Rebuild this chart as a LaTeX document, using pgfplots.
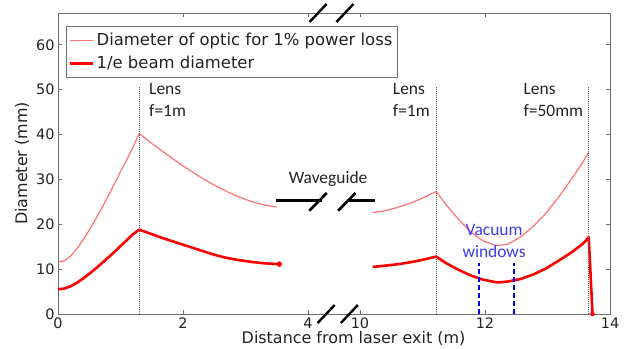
\documentclass[border=0pt]{standalone}
\usepackage{fontspec}
\setmainfont{DejaVu Sans}
\newfontfamily\carlito{Carlito}
\usepackage{pgfplots}
\pgfplotsset{compat=1.18}
\usetikzlibrary{calc}
\definecolor{thinred}{RGB}{255,115,115}
\definecolor{vacblue}{RGB}{60,60,230}
\definecolor{framec}{RGB}{110,110,110}
\definecolor{txt}{RGB}{34,34,34}
\begin{document}
\begin{tikzpicture}
\useasboundingbox (-58bp,-35bp) rectangle (572bp,314bp);
\begin{axis}[
  at={(0,0)}, anchor=south west,
  scale only axis, width=552bp, height=301bp,
  xmin=0, xmax=8.83, ymin=0, ymax=67.1,
  clip=false,
  xtick={0,2,4,4.83,6.83,8.83},
  xticklabels={0,2,4,10,12,14},
  ytick={0,10,20,30,40,50,60},
  tick align=inside, xtick pos=both, ytick pos=both,
  major tick length=4bp,
  tick style={framec, line width=0.8bp},
  axis line style={framec, line width=0.8bp},
  ticklabel style={font=\fontsize{14.5}{17}\selectfont, text=txt},
  /pgf/number format/assume math mode=true,
  xlabel={Distance from laser exit (m)},
  ylabel={Diameter (mm)},
  label style={font=\fontsize{16}{19}\selectfont, text=txt},
  xlabel style={xshift=19.5bp, yshift=4bp},
  legend style={at={(axis description cs:0.0139,0.9568)}, anchor=north west,
    draw=framec, line width=0.8bp, fill=white,
    font=\fontsize{16.5}{19}\selectfont, text=txt,
    inner xsep=3bp, inner ysep=5bp, row sep=5bp},
  legend cell align=left,
  legend image code/.code={\draw[#1] (0bp,0bp) -- (23bp,0bp);},
]
\addplot[thinred, line width=1.2bp, line join=round] coordinates {
(0,11.5) (0.1,11.87) (0.2,12.9) (0.3,14.5) (0.4,16.5) (0.5,18.7) (0.6,21.1)
(0.7,23.6) (0.8,26.2) (0.9,28.9) (1.0,31.7) (1.1,34.4) (1.2,37.2) (1.3,40.2)
(1.5,38.05) (1.7,35.97) (1.9,33.98) (2.1,32.1) (2.3,30.34) (2.5,28.73)
(2.7,27.29) (2.9,26.05) (3.1,25.05) (3.3,24.31) (3.5,23.85)};
\addlegendentry{Diameter of optic for 1\% power loss\hspace{20bp}}
\addplot[red, line width=2.6bp, line join=round] coordinates {
(0,5.5) (0.1,5.67) (0.2,6.17) (0.3,6.93) (0.4,7.9) (0.5,8.95) (0.6,10.1)
(0.7,11.3) (0.8,12.55) (0.9,13.8) (1.0,15.15) (1.1,16.45) (1.2,17.8) (1.3,18.8)
(1.5,17.8) (1.7,16.8) (1.9,15.9) (2.1,15.0) (2.3,14.1) (2.5,13.2) (2.7,12.5)
(2.9,12.0) (3.1,11.6) (3.3,11.3) (3.54,11.12)};
\addlegendentry{1/e beam diameter}
\addplot[forget plot, red, only marks, mark=*, mark size=2.5bp] coordinates {(3.54,11.12)};
\addplot[forget plot, thinred, line width=1.2bp, line join=round] coordinates {
(5.035,22.6) (5.2,22.95) (5.4,23.62) (5.6,24.52) (5.8,25.64) (6.05,27.3)
(6.2,24.5) (6.4,21.2) (6.6,18.3) (6.8,16.3) (7.0,15.27) (7.05,15.25) (7.2,15.6)
(7.4,17.2) (7.6,19.5) (7.8,22.4) (8.0,25.9) (8.2,29.8) (8.4,33.9) (8.49,36.2)};
\addplot[forget plot, red, line width=2.6bp, line join=round] coordinates {
(5.035,10.5) (5.2,10.72) (5.4,11.03) (5.6,11.45) (5.8,11.97) (6.05,12.8)
(6.2,11.4) (6.4,9.9) (6.6,8.6) (6.8,7.65) (7.0,7.1) (7.05,7.05) (7.2,7.25)
(7.4,7.8) (7.6,8.8) (7.8,10.1) (8.0,11.8) (8.2,13.6) (8.4,15.7) (8.49,17.1)
(8.55,0)};
\addplot[forget plot, red, only marks, mark=*, mark size=2bp] coordinates {(8.55,0)};
% lens positions
\addplot[forget plot, black!60, line width=0.8bp, dash pattern=on 0.8bp off 1.2bp] coordinates {(1.3,0) (1.3,50.7)};
\addplot[forget plot, black!60, line width=0.8bp, dash pattern=on 0.8bp off 1.2bp] coordinates {(6.05,0) (6.05,50.7)};
\addplot[forget plot, black!60, line width=0.8bp, dash pattern=on 0.8bp off 1.2bp] coordinates {(8.49,0) (8.49,50.7)};
% vacuum windows
\addplot[forget plot, blue, line width=1.8bp, dash pattern=on 5bp off 3bp] coordinates {(6.74,0) (6.74,11.4)};
\addplot[forget plot, blue, line width=1.8bp, dash pattern=on 5bp off 3bp] coordinates {(7.30,0) (7.30,11.4)};
% annotations
\tikzset{ann/.style={font=\carlito\fontsize{17.5}{21}\selectfont, text=txt, inner sep=0pt}}
\node[ann, anchor=base west] at (axis cs:1.456,48.9) {Lens};
\node[ann, anchor=base west] at (axis cs:1.456,44.0) {f=1m};
\node[ann, anchor=base west] at (axis cs:5.355,48.9) {Lens};
\node[ann, anchor=base west] at (axis cs:5.355,44.0) {f=1m};
\node[ann, anchor=base west] at (axis cs:7.445,48.9) {Lens};
\node[ann, anchor=base west] at (axis cs:7.445,44.0) {f=50mm};
\node[ann, anchor=base] at (axis cs:4.32,29.2) {Waveguide};
\node[ann, anchor=base, text=vacblue] at (axis cs:6.976,17.6) {Vacuum};
\node[ann, anchor=base, text=vacblue] at (axis cs:6.976,12.7) {windows};
% waveguide symbol
\draw[line width=3bp] (axis cs:3.488,25.3) -- (axis cs:4.224,25.3);
\draw[line width=2.6bp] ($(axis cs:4.16,25.0)+(-8.7bp,-8.85bp)$) -- ++(17.4bp,17.7bp);
\draw[line width=3bp] (axis cs:4.619,25.3) -- (axis cs:5.072,25.3);
\draw[line width=2.6bp] ($(axis cs:4.62,25.0)+(-8.7bp,-8.85bp)$) -- ++(17.4bp,17.7bp);
% axis break marks
\draw[line width=2.4bp] ($(axis cs:4.16,67.1)+(-8.5bp,-9bp)$) -- ++(17bp,18bp);
\draw[line width=2.4bp] ($(axis cs:4.59,67.1)+(-8.5bp,-9bp)$) -- ++(17bp,18bp);
\draw[line width=2.4bp] ($(axis cs:4.29,0)+(-8.5bp,-9bp)$) -- ++(17bp,18bp);
\draw[line width=2.4bp] ($(axis cs:4.66,0)+(-8.5bp,-9bp)$) -- ++(17bp,18bp);
\end{axis}
\end{tikzpicture}
\end{document}
